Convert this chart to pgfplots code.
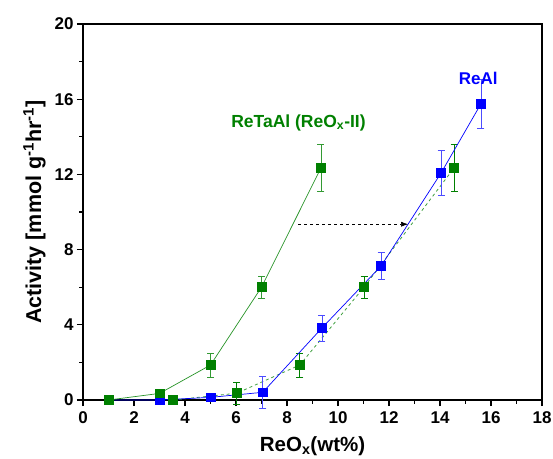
\documentclass[border=0pt]{standalone}
\usepackage{pgfplots}
\pgfplotsset{compat=1.18}
\usepackage{pgfplotstable}
\usepackage{fontspec}
\setmainfont{Liberation Sans}
\usetikzlibrary{arrows.meta}
\definecolor{cgreen}{RGB}{0,128,0}
\definecolor{cblue}{RGB}{0,0,255}

\pgfplotstableread{
x y e
1 0 0
3 0.35 0.1
5 1.86 0.65
7 6.0 0.6
9.33 12.34 1.25
}\greensolid

\pgfplotstableread{
x y e
3.53 0 0
6.03 0.36 0.6
8.5 1.86 0.65
11.02 6.0 0.6
14.55 12.34 1.25
}\greendash

\pgfplotstableread{
x y e
1 0 0
3 0 0
5 0.14 0.1
7.05 0.41 0.83
9.37 3.83 0.7
11.69 7.13 0.7
14.04 12.07 1.2
15.6 15.74 1.3
}\blueser

\begin{document}
\begin{tikzpicture}
\path[use as bounding box] (-83pt,-58pt) rectangle (470pt,400pt);
\begin{axis}[
  name=ax,
  at={(0,0)}, anchor=south west,
  scale only axis, width=459pt, height=376pt,
  xmin=0, xmax=18, ymin=0, ymax=20,
  xtick={0,2,...,18}, ytick={0,4,...,20},
  minor xtick={1,3,...,17}, minor ytick={2,6,...,18},
  xtick pos=bottom, ytick pos=left, tick align=outside,
  major tick length=6pt, minor tick length=3.5pt,
  axis line style={line width=1.3pt, black},
  every tick/.style={black, line width=1.1pt},
  /pgf/number format/assume math mode=true,
  ticklabel style={font=\fontsize{17}{20}\selectfont\bfseries},
  xticklabel style={yshift=-2pt},
  xlabel={ReO\textsubscript{x}(wt\%)},
  ylabel={Activity [mmol g\textsuperscript{-1}hr\textsuperscript{-1}]},
  xlabel style={font=\fontsize{20.5}{23}\selectfont\bfseries, yshift=-6pt},
  ylabel style={font=\fontsize{21.5}{24}\selectfont\bfseries, yshift=2pt},
  clip=false,
]
\addplot[cgreen!75!white, dashed, line width=0.8pt, mark=square*, mark size=4.4pt,
  mark options={solid, fill=cgreen, draw=cgreen},
  error bars/.cd, y dir=both, y explicit,
  error bar style={cgreen, solid, line width=0.6pt},
  error mark options={rotate=90, mark size=3.5pt, cgreen, line width=0.6pt}]
  table[x=x, y=y, y error=e] {\greendash};
\addplot[cblue, line width=0.7pt, mark=square*, mark size=4.4pt,
  mark options={fill=cblue, draw=cblue},
  error bars/.cd, y dir=both, y explicit,
  error bar style={cblue!70!white, line width=0.6pt},
  error mark options={rotate=90, mark size=3.5pt, cblue!70!white, line width=0.6pt}]
  table[x=x, y=y, y error=e] {\blueser};
\addplot[cgreen!85!white, line width=0.7pt, mark=square*, mark size=4.4pt,
  mark options={fill=cgreen, draw=cgreen},
  error bars/.cd, y dir=both, y explicit,
  error bar style={cgreen!80!white, line width=0.6pt},
  error mark options={rotate=90, mark size=3.5pt, cgreen!80!white, line width=0.6pt}]
  table[x=x, y=y, y error=e] {\greensolid};
\draw[black, dashed, line width=0.6pt, -{Latex[length=7pt,width=5pt]}] (axis cs:8.45,9.35) -- (axis cs:12.75,9.35);
\node[cgreen, font=\fontsize{17.5}{20}\selectfont\bfseries] at (axis cs:8.45,14.75) {ReTaAl (ReO\textsubscript{x}-II)};
\node[cblue, font=\fontsize{17}{20}\selectfont\bfseries] at (axis cs:15.5,17.13) {ReAl};
\end{axis}
\draw[black, solid, line width=1.3pt, line cap=rect] (ax.north west) -- (ax.north east) -- (ax.south east);
\end{tikzpicture}
\end{document}
